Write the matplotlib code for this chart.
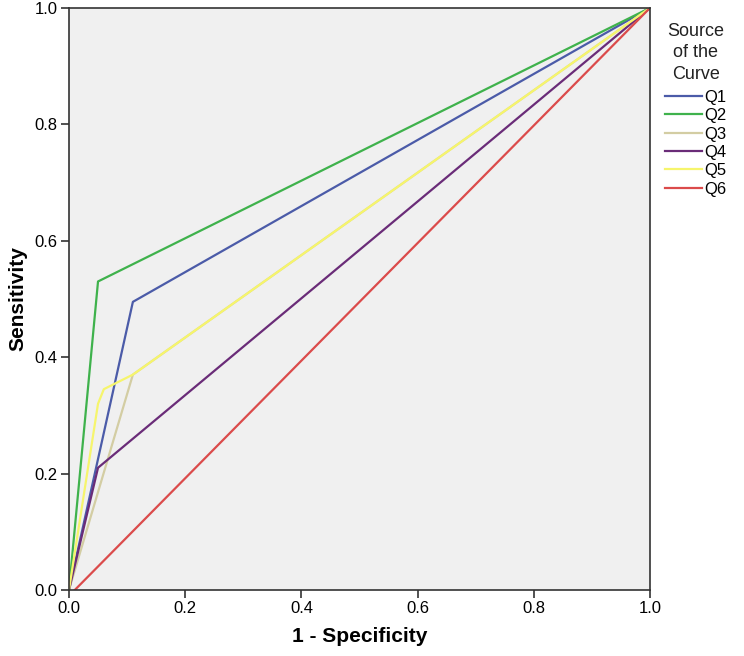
import matplotlib
matplotlib.use("Agg")
import matplotlib.pyplot as plt
from matplotlib import font_manager

# ROC curve points
names = ['Q1', 'Q2', 'Q3', 'Q4', 'Q5', 'Q6']
fpr = {
    'Q1': [0.0, 0.11, 1.0],
    'Q2': [0.0, 0.05, 1.0],
    'Q3': [0.0, 0.11, 1.0],
    'Q4': [0.0, 0.05, 1.0],
    'Q5': [0.0, 0.05, 0.06, 0.11, 1.0],
    'Q6': [0.01, 1.0],
}
tpr = {
    'Q1': [0.0, 0.495, 1.0],
    'Q2': [0.0, 0.53, 1.0],
    'Q3': [0.0, 0.37, 1.0],
    'Q4': [0.0, 0.21, 1.0],
    'Q5': [0.0, 0.32, 0.345, 0.37, 1.0],
    'Q6': [0.0, 1.0],
}
colors = ['#4b5ba8', '#3fb24c', '#d3cda3', '#6a2c78', '#f6f56c', '#db4b4b']
ticks = [0.0, 0.2, 0.4, 0.6, 0.8, 1.0]

avail = {f.name for f in font_manager.fontManager.ttflist}
fam = 'Liberation Sans Narrow' if 'Liberation Sans Narrow' in avail else 'Liberation Sans'
plt.rcParams['font.family'] = [fam, 'DejaVu Sans']

fig = plt.figure(figsize=(7.44, 6.56), dpi=100)
ax = fig.add_axes([0.0927, 0.1006, 0.781, 0.8874])
ax.set_facecolor('#f0f0f0')

for n, c in zip(names, colors):
    ax.plot(fpr[n], tpr[n], color=c, lw=1.6, label=n)

ax.set_xlim(0, 1)
ax.set_ylim(0, 1)
ax.set_xticks(ticks)
ax.set_yticks(ticks)
ax.set_xticklabels(['%.1f' % t for t in ticks], fontsize=12)
ax.set_yticklabels(['%.1f' % t for t in ticks], fontsize=12)
ax.tick_params(direction='out', length=6, width=1.2, color='#333333', pad=2)
for s in ax.spines.values():
    s.set_color('#333333')
    s.set_linewidth(1.2)

ax.set_xlabel('1 - Specificity', fontsize=15, fontweight='bold', labelpad=8)
ax.set_ylabel('Sensitivity', fontsize=15, fontweight='bold', labelpad=5)

leg = ax.legend(loc='upper left', bbox_to_anchor=(1.0, 1.0), frameon=False,
                title='Source\nof the\nCurve', fontsize=12, title_fontsize=13,
                handlelength=2.2, handletextpad=0.15, labelspacing=0.2,
                borderaxespad=0.5)
leg._legend_box.align = 'center'
leg._legend_box.sep = 5
leg.get_title().set_multialignment('center')
leg.get_title().set_linespacing(1.35)
leg.get_title().set_color('#222222')

fig.savefig('out.png', dpi=100)
